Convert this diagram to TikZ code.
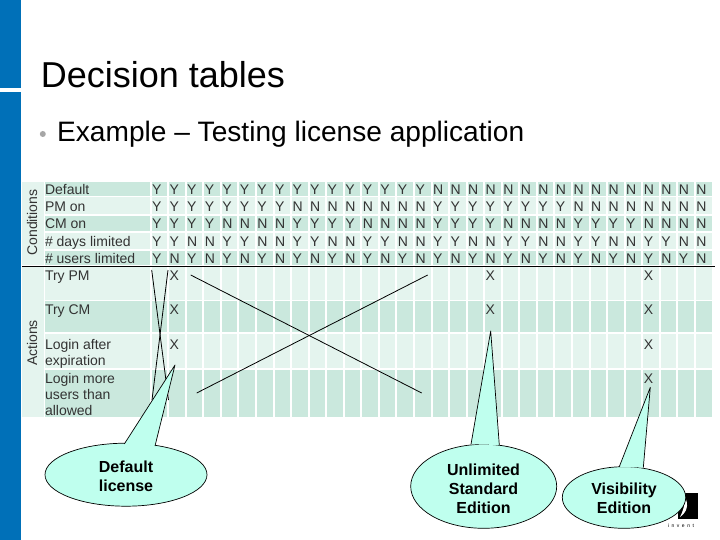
\documentclass[tikz,border=0pt]{standalone}
\usepackage{fontspec}
\setmainfont{Liberation Sans}
\usetikzlibrary{shapes.geometric}
\definecolor{slideblue}{HTML}{0070B8}
\definecolor{rowdark}{HTML}{CAE8DD}
\definecolor{rowlight}{HTML}{E4F4EE}
\definecolor{calloutfill}{HTML}{BFFFEE}
\tikzset{
  tablefont/.style={font=\fontsize{14}{16.5}\selectfont, text=black!80, inner sep=0pt, outer sep=0pt},
  cellmark/.style={tablefont, anchor=base west},
  rowlabel/.style={tablefont, anchor=base west},
  sidelabel/.style={tablefont, rotate=90, anchor=base},
  balloon/.style={ellipse, draw=black, fill=calloutfill, line width=0.7pt, inner sep=0pt, outer sep=0pt},
  balloontext/.style={font=\fontsize{16}{19}\selectfont\bfseries, align=center, inner sep=0pt},
  balloonfill/.style={fill=calloutfill},
  balloonedge/.style={draw=black, line width=0.7pt, line join=round},
  strike/.style={draw=black, line width=0.8pt}
}
\begin{document}
\begin{tikzpicture}[x=1pt,y=-1pt]
\useasboundingbox (0,0) rectangle (720,540);
\fill[white] (0,0) rectangle (720,540);
% sidebar
\fill[slideblue] (0,0) rectangle (21,88);
\fill[slideblue] (0,92) rectangle (21,540);
% titles
\node[anchor=base west, inner sep=0pt, font=\fontsize{36}{40}\selectfont] (title) at (40.7,87.3) {Decision tables};
\fill[black!35] (42.8,134) circle (3);
\node[anchor=base west, inner sep=0pt, font=\fontsize{28.1}{32}\selectfont] (subtitle) at (57,141.7) {Example – Testing license application};
% side columns
\fill[rowlight] (22,182) rectangle (43.5,265);
\fill[rowlight] (22,267) rectangle (43.5,417.3);
% rows: top/bottom/colour
\foreach \ya/\yb/\c in {182/196/rowdark,197.5/214/rowlight,216/231.5/rowdark,232.5/249/rowlight,250.5/265/rowdark,
                        267/299.5/rowlight,300.7/332.3/rowdark,334.3/368.3/rowlight,369.7/417.3/rowdark}{
  \fill[\c] (44.5,\ya) rectangle (149.6,\yb);
  \foreach \i in {0,...,31}{
    \pgfmathsetmacro{\xa}{150.6+17.56*\i+1}
    \pgfmathsetmacro{\xb}{150.6+17.56*(\i+1)-1}
    \fill[\c] (\xa,\ya) rectangle (\xb,\yb);
  }
}
\draw[black, line width=0.8pt] (22,266.3) coordinate (rulea) -- (715,266.3) coordinate (ruleb);
% side labels
\node[sidelabel] (conditions) at (37,222.5) {Conditions};
\node[sidelabel] (actions) at (37,343) {Actions};
% row labels
\foreach \n/\t/\y in {a/Default/194.3,b/PM on/211.3,c/CM on/229,d/\# days limited/246.3,e/\# users limited/263.5,
                      f/Try PM/280,g/Try CM/314,h/Login after/349.3,i/expiration/365.3,j/Login more/383.3,k/users than/399.3,l/allowed/415.3}{
  \node[rowlabel] (lab\n) at (45,\y) {\t};
}
% Y / N entries
\foreach \r/\p/\y in {1/16/194.3,2/8/211.3,3/4/229,4/2/246.3,5/1/263.5}{
  \foreach \i in {0,...,31}{
    \pgfmathtruncatemacro{\bit}{mod(floor(\i/\p),2)}
    \pgfmathsetmacro{\xt}{150.6+17.56*\i+1.5}
    \ifnum\bit=0
      \node[cellmark] (v\r-\i) at (\xt,\y) {Y};
    \else
      \node[cellmark] (v\r-\i) at (\xt,\y) {N};
    \fi
  }
}
% X marks
\foreach \n/\i/\y in {a/1/280,b/1/314,c/1/349.3,d/19/280,e/19/314,f/28/280,g/28/314,h/28/349.3,j/28/383.3}{
  \pgfmathsetmacro{\xt}{150.6+17.56*\i+1.5}
  \node[cellmark] (x\n) at (\xt,\y) {X};
}
% strike-through lines
\coordinate (sa) at (151.7,270); \coordinate (sb) at (168.5,400);
\coordinate (sc) at (168,270);   \coordinate (sd) at (152,400);
\coordinate (se) at (190.7,275); \coordinate (sf) at (421.7,393);
\coordinate (sg) at (427.7,275); \coordinate (sh) at (196.7,393);
\draw[strike] (sa) -- (sb);
\draw[strike] (sc) -- (sd);
\draw[strike] (se) -- (sf);
\draw[strike] (sg) -- (sh);
% logo behind the balloon
\fill[black] (678,493) rectangle (698,519);
\fill[white] (685,497) .. controls (689,505) and (687,512) .. (680,517) .. controls (683.5,510) and (685,504) .. (685,497) -- cycle;
\node[inner sep=0pt, font=\fontsize{5}{6}\selectfont] (invent) at (681,526) {i\,\,\,n\,\,\,v\,\,\,e\,\,\,n\,\,\,t};
% balloons
\node[balloon, minimum width=162pt, minimum height=63pt] (b1) at (126,474.7) {};
\coordinate (b1a) at (124.3,444); \coordinate (b1t) at (175,365); \coordinate (b1b) at (155,446);
\fill[balloonfill] (b1a) -- (b1t) -- (b1b) -- cycle;
\draw[balloonedge] (b1a) -- (b1t) -- (b1b);
\node[balloontext] (t1) at (126,476) {Default\\license};

\node[balloon, minimum width=146pt, minimum height=84pt] (b2) at (483.7,486.3) {};
\coordinate (b2a) at (471,444.3); \coordinate (b2t) at (490.7,331); \coordinate (b2b) at (499.3,445);
\fill[balloonfill] (b2a) -- (b2t) -- (b2b) -- cycle;
\draw[balloonedge] (b2a) -- (b2t) -- (b2b);
\node[balloontext] (t2) at (483.5,489) {Unlimited\\Standard\\Edition};

\node[balloon, minimum width=123.4pt, minimum height=61.6pt] (b3) at (624,497.5) {};
\coordinate (b3a) at (619.3,466.7); \coordinate (b3t) at (650.3,387.3); \coordinate (b3b) at (643.3,467.7);
\fill[balloonfill] (b3a) -- (b3t) -- (b3b) -- cycle;
\draw[balloonedge] (b3a) -- (b3t) -- (b3b);
\node[balloontext] (t3) at (624,498) {Visibility\\Edition};
\end{tikzpicture}
\end{document}
